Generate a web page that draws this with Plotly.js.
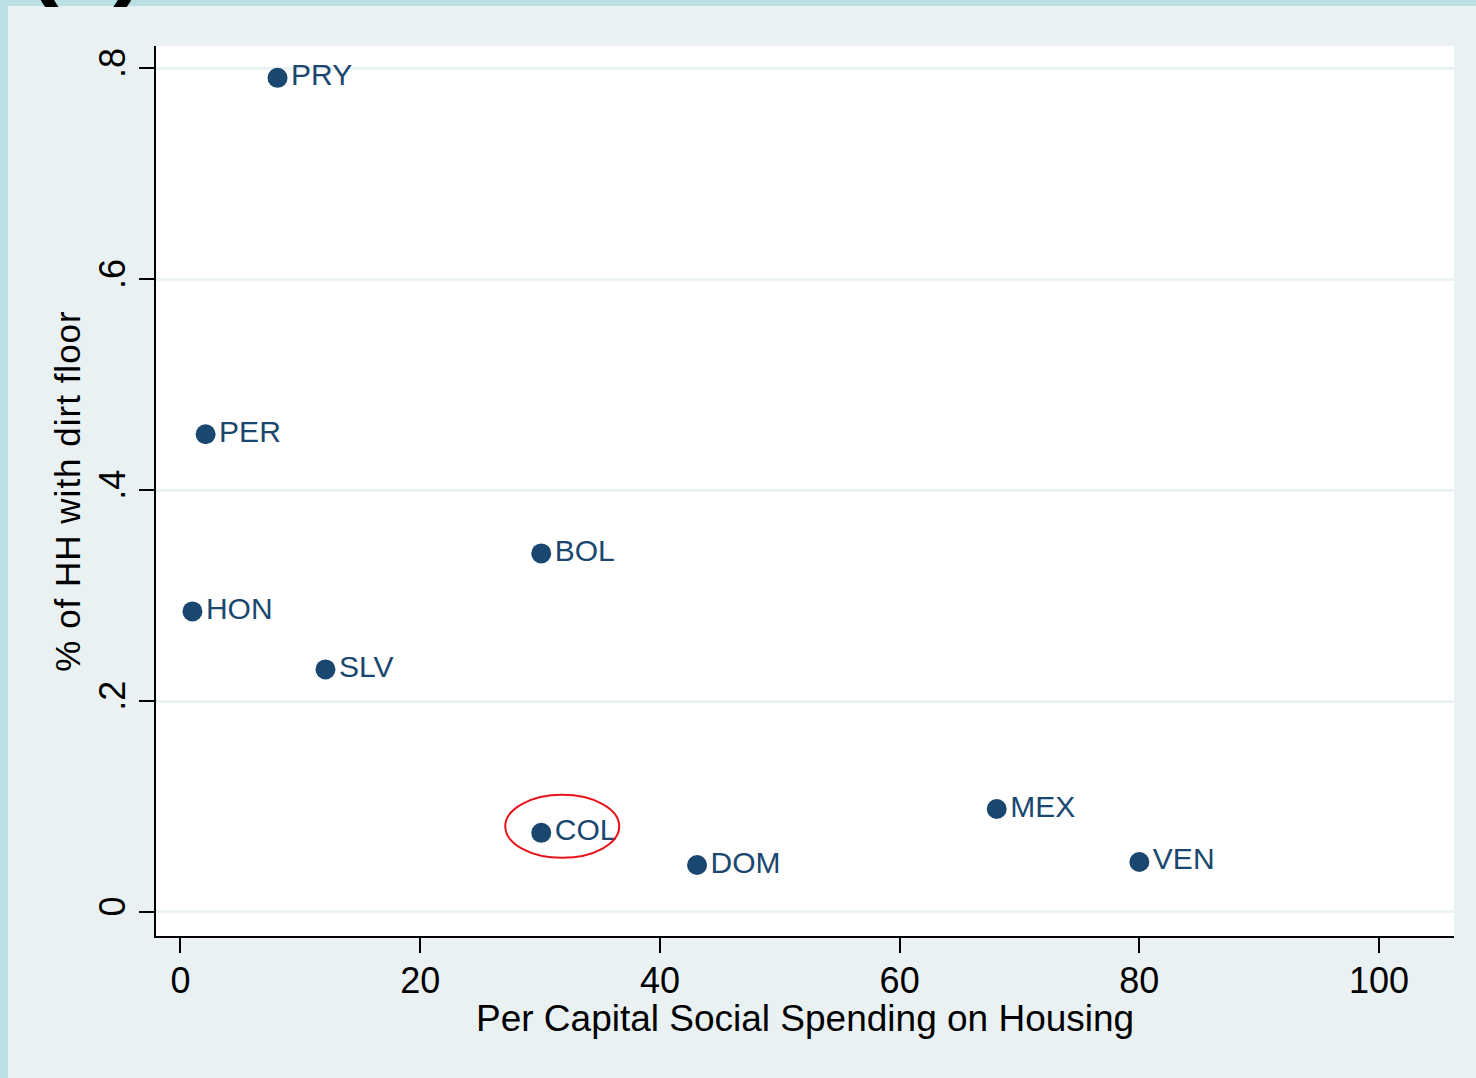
<!DOCTYPE html>
<html>
<head>
<meta charset="utf-8">
<script src="https://cdn.plot.ly/plotly-3.0.1.min.js"></script>
<style>
html,body{margin:0;padding:0;background:#eaf1f3;}
#chart{width:1476px;height:1078px;}
#chart .ytitle{letter-spacing:1px;}
</style>
</head>
<body>
<div id="chart"></div>
<script>
// Data
var countries = ["PRY","PER","BOL","HON","SLV","COL","DOM","MEX","VEN"];
var spending  = [8.1, 2.1, 30.1, 1.0, 12.1, 30.1, 43.1, 68.1, 80.0];
var dirtFloor = [0.791, 0.453, 0.340, 0.285, 0.230, 0.075, 0.0445, 0.0976, 0.0474];

var xTickVals = [0, 20, 40, 60, 80, 100];
var xTickText = ["0", "20", "40", "60", "80", "100"];
var yTickVals = [0, 0.2, 0.4, 0.6, 0.8];
var yTickText = ["0", ".2", ".4", ".6", ".8"];

var xTitle = "Per Capital Social Spending on Housing";
var yTitle = "% of HH with dirt floor";
var highlighted = "COL";
var panelLabel = "(a)";

var W = 1476, H = 1078;
var M = {l: 156, r: 22, t: 46, b: 142};
var pw = W - M.l - M.r, ph = H - M.t - M.b;
function px2x(p){ return (p - M.l) / pw; }
function py2y(p){ return (H - M.b - p) / ph; }

var navy = "#1a476f";
var font = "Liberation Sans, Arial, sans-serif";

var trace = {
  type: "scatter",
  mode: "markers+text",
  x: spending,
  y: dirtFloor,
  text: countries,
  textposition: "middle right",
  textfont: {family: font, size: 30, color: navy},
  marker: {size: 20, color: navy},
  cliponaxis: false,
  hoverinfo: "x+y+text"
};

var hi = countries.indexOf(highlighted);

var layout = {
  width: W, height: H,
  margin: M,
  paper_bgcolor: "#eaf1f3",
  plot_bgcolor: "#ffffff",
  showlegend: false,
  font: {family: font, color: "#000"},
  xaxis: {
    range: [-2.04, 106.25],
    tickvals: xTickVals, ticktext: xTickText,
    showgrid: false, zeroline: false,
    showline: true, linecolor: "#000", linewidth: 2,
    ticks: "outside", ticklen: 15, tickwidth: 2, tickcolor: "#000",
    ticklabelstandoff: -3,
    tickfont: {family: font, size: 36, color: "#000"}
  },
  yaxis: {
    range: [-0.0228, 0.8212],
    tickvals: yTickVals, ticktext: yTickText,
    tickangle: -90,
    showgrid: true, gridcolor: "#eaf2f3", gridwidth: 3,
    zeroline: false,
    showline: true, linecolor: "#000", linewidth: 2,
    ticks: "outside", ticklen: 15, tickwidth: 2, tickcolor: "#000",
    tickfont: {family: font, size: 36, color: "#000"},
    title: {text: yTitle, font: {family: font, size: 35, color: "#000"}, standoff: 0}
  },
  shapes: [
    {type: "rect", xref: "paper", yref: "paper", layer: "below",
     x0: px2x(0), x1: px2x(8), y0: py2y(H), y1: py2y(0),
     fillcolor: "#bae0e3", line: {width: 0}},
    {type: "rect", xref: "paper", yref: "paper", layer: "below",
     x0: px2x(0), x1: px2x(W), y0: py2y(6), y1: py2y(0),
     fillcolor: "#bae0e3", line: {width: 0}},
    {type: "circle", xref: "x", yref: "y",
     xsizemode: "pixel", ysizemode: "pixel",
     xanchor: spending[hi], yanchor: dirtFloor[hi],
     x0: -36, x1: 78, y0: -25, y1: 38,
     line: {color: "#e8141b", width: 2}}
  ],
  annotations: [
    {text: xTitle, xref: "paper", yref: "paper",
     x: 0.5, xanchor: "center", y: py2y(1018), yanchor: "middle",
     showarrow: false, font: {family: font, size: 37, color: "#000"}},
    {text: "<b>" + panelLabel + "</b>", xref: "paper", yref: "paper",
     x: px2x(24), xanchor: "left", y: py2y(10), yanchor: "bottom",
     showarrow: false, font: {family: font, size: 98, color: "#000"}}
  ]
};

Plotly.newPlot("chart", [trace], layout, {displayModeBar: false, staticPlot: true});
</script>
</body>
</html>
